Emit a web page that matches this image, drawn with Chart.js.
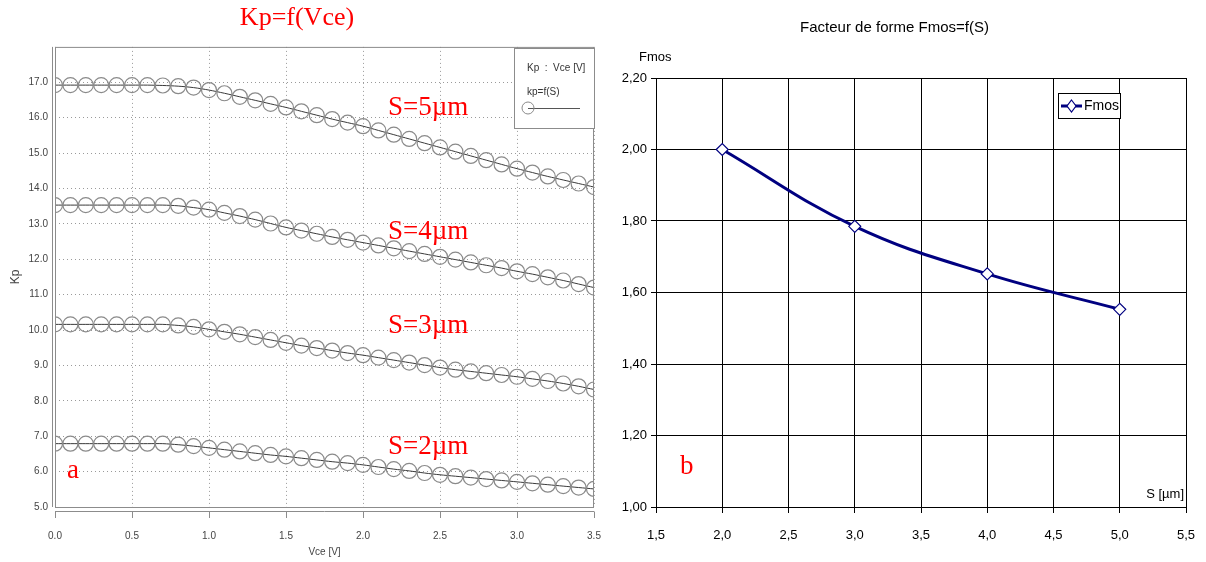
<!DOCTYPE html>
<html>
<head>
<meta charset="utf-8">
<script src="https://cdn.jsdelivr.net/npm/chart.js@4"></script>
<style>
    body { margin: 0; background: #fff; width: 1206px; height: 562px; overflow: hidden; }
    .bloc { position: absolute; top: 0; height: 562px; width: 603px; }
    #gauche { left: 0; }
    #droite { left: 603px; }
</style>
</head>
<body>
<div class="bloc" id="gauche"><canvas id="kpChart"></canvas></div>
<div class="bloc" id="droite"><canvas id="fmosChart"></canvas></div>
<script>
// Graphe a : Kp = f(Vce)
const vce = [0.0, 0.1, 0.2, 0.3, 0.4, 0.5, 0.6, 0.7, 0.8, 0.9, 1.0, 1.1, 1.2, 1.3, 1.4, 1.5, 1.6, 1.7,
             1.8, 1.9, 2.0, 2.1, 2.2, 2.3, 2.4, 2.5, 2.6, 2.7, 2.8, 2.9, 3.0, 3.1, 3.2, 3.3, 3.4, 3.5];
const kpS5 = [16.92, 16.92, 16.92, 16.92, 16.92, 16.92, 16.92, 16.91, 16.89, 16.85, 16.78, 16.69, 16.59, 16.49,
              16.39, 16.29, 16.18, 16.07, 15.96, 15.86, 15.76, 15.64, 15.52, 15.40, 15.28, 15.16, 15.04, 14.92,
              14.80, 14.68, 14.56, 14.45, 14.34, 14.24, 14.14, 14.04];
const kpS4 = [13.53, 13.53, 13.53, 13.53, 13.53, 13.53, 13.53, 13.53, 13.51, 13.46, 13.40, 13.31, 13.22, 13.12,
              13.01, 12.90, 12.81, 12.72, 12.63, 12.55, 12.47, 12.39, 12.31, 12.23, 12.15, 12.07, 11.99, 11.91,
              11.83, 11.75, 11.66, 11.58, 11.49, 11.40, 11.30, 11.20];
const kpS3 = [10.16, 10.16, 10.16, 10.16, 10.16, 10.16, 10.16, 10.16, 10.13, 10.09, 10.02, 9.95, 9.88, 9.80,
              9.72, 9.64, 9.56, 9.49, 9.42, 9.35, 9.29, 9.22, 9.15, 9.08, 9.01, 8.94, 8.88, 8.83,
              8.78, 8.73, 8.68, 8.62, 8.56, 8.49, 8.41, 8.32];
const kpS2 = [6.79, 6.79, 6.79, 6.79, 6.79, 6.79, 6.79, 6.79, 6.76, 6.72, 6.67, 6.62, 6.57, 6.52,
              6.47, 6.43, 6.38, 6.33, 6.28, 6.24, 6.19, 6.13, 6.07, 6.02, 5.96, 5.91, 5.87, 5.83,
              5.79, 5.75, 5.71, 5.67, 5.63, 5.59, 5.55, 5.51];
const etiquettesS = ['S=5µm', 'S=4µm', 'S=3µm', 'S=2µm'];

// Graphe b : Fmos = f(S)
const sValeurs = [2, 3, 4, 5];
const fmosValeurs = [2.00, 1.785, 1.652, 1.553];

const sans = "'Liberation Sans', Arial, sans-serif";
const serif = "'Liberation Serif', 'Times New Roman', serif";

function serieKp(valeurs) {
    return {
        data: vce.map((x, i) => ({ x: x, y: valeurs[i] })),
        borderColor: '#3a3a3a',
        borderWidth: 1,
        pointStyle: 'circle',
        pointRadius: 7.5,
        pointHoverRadius: 7.5,
        pointBorderColor: '#8a8a8a',
        pointBorderWidth: 1.2,
        pointBackgroundColor: 'rgba(255,255,255,0)',
        tension: 0.3
    };
}

// pas de marge auto pour les etiquettes extremes
function sansMarge(s, h) {
    s.height = h;
    s.paddingLeft = 0;
    s.paddingRight = 0;
}

// cadre, legende et annotations du graphe a
const decorA = {
    id: 'decorA',
    afterDraw(chart) {
        const { ctx, chartArea: ca, scales } = chart;
        ctx.save();
        ctx.strokeStyle = '#8c8c8c';
        ctx.lineWidth = 1;
        ctx.strokeRect(ca.left + 0.5, ca.top + 0.5, ca.right - ca.left - 1, ca.bottom - ca.top);
        ctx.beginPath();
        ctx.moveTo(ca.left - 2.5, ca.top);
        ctx.lineTo(ca.left - 2.5, ca.bottom);
        // axe x double + graduations
        ctx.moveTo(ca.left, ca.bottom + 4.5);
        ctx.lineTo(ca.right, ca.bottom + 4.5);
        scales.x.ticks.forEach(t => {
            const px = Math.round(scales.x.getPixelForValue(t.value)) + 0.5;
            ctx.moveTo(px, ca.bottom + 4.5);
            ctx.lineTo(px, ca.bottom + 11);
        });
        ctx.stroke();

        // legende
        ctx.fillStyle = '#fff';
        ctx.fillRect(514, 48, 80, 80);
        ctx.strokeStyle = '#8c8c8c';
        ctx.strokeRect(514.5, 48.5, 80, 80);
        ctx.fillStyle = '#333';
        ctx.font = '10px ' + sans;
        ctx.textBaseline = 'middle';
        ctx.fillText('Kp  :  Vce [V]', 527, 68);
        ctx.fillText('kp=f(S)', 527, 92);
        ctx.strokeStyle = '#555';
        ctx.beginPath();
        ctx.moveTo(528, 108.5);
        ctx.lineTo(580, 108.5);
        ctx.stroke();
        ctx.strokeStyle = '#8a8a8a';
        ctx.beginPath();
        ctx.arc(528, 108, 6, 0, Math.PI * 2);
        ctx.stroke();

        // annotations
        ctx.fillStyle = '#ff0000';
        ctx.font = '27px ' + serif;
        const yS = [108, 232, 326, 447];
        etiquettesS.forEach((txt, i) => ctx.fillText(txt, 388, yS[i]));
        ctx.fillText('a', 67, 471);
        ctx.restore();
    }
};

new Chart(document.getElementById('kpChart'), {
    type: 'line',
    data: { datasets: [serieKp(kpS5), serieKp(kpS4), serieKp(kpS3), serieKp(kpS2)] },
    options: {
        responsive: true,
        maintainAspectRatio: false,
        animation: false,
        layout: { padding: { left: 0, right: 9, top: 0, bottom: 0 } },
        plugins: {
            legend: { display: false },
            tooltip: { enabled: false },
            title: {
                display: true,
                text: 'Kp=f(Vce)',
                color: '#ff0000',
                font: { family: serif, size: 26, weight: 'normal', lineHeight: 1.15 },
                padding: { top: 3, bottom: 14 }
            }
        },
        scales: {
            x: {
                type: 'linear',
                min: 0, max: 3.5,
                afterFit: s => sansMarge(s, 55),
                ticks: { stepSize: 0.5, padding: 23, color: '#444', font: { family: sans, size: 10 },
                         callback: v => v.toFixed(1) },
                grid: { color: '#9a9a9a', drawTicks: false },
                border: { display: false, dash: [1, 3] },
                title: { display: true, text: 'Vce [V]', color: '#444', font: { family: sans, size: 10 },
                         padding: { top: 0, bottom: 4 } }
            },
            y: {
                min: 5, max: 18,
                afterFit: s => { s.width = 55; },
                ticks: { stepSize: 1, padding: 7, color: '#444', font: { family: sans, size: 10 },
                         callback: v => (v === 18 ? '' : v.toFixed(1)) },
                grid: { color: c => (c.tick && (c.tick.value === 18 || c.tick.value === 5) ? 'rgba(0,0,0,0)' : '#9a9a9a'),
                        drawTicks: false },
                border: { display: false, dash: [1, 3] },
                title: { display: true, text: 'Kp', color: '#444', font: { family: sans, size: 12 },
                         padding: { top: 8, bottom: 0 } }
            }
        }
    },
    plugins: [decorA]
});

// legende et annotations du graphe b
const decorB = {
    id: 'decorB',
    afterDraw(chart) {
        const { ctx } = chart;
        ctx.save();
        ctx.fillStyle = '#000';
        ctx.font = '13px ' + sans;
        ctx.textBaseline = 'middle';
        ctx.fillText('Fmos', 36, 57);
        ctx.textAlign = 'right';
        ctx.fillText('S [µm]', 581, 494);
        ctx.textAlign = 'left';

        // legende
        ctx.fillStyle = '#fff';
        ctx.fillRect(455, 93, 62, 25);
        ctx.strokeStyle = '#000';
        ctx.lineWidth = 1;
        ctx.strokeRect(455.5, 93.5, 62, 25);
        ctx.strokeStyle = '#000080';
        ctx.lineWidth = 3;
        ctx.beginPath();
        ctx.moveTo(458, 106);
        ctx.lineTo(479, 106);
        ctx.stroke();
        ctx.lineWidth = 1.2;
        ctx.fillStyle = '#fff';
        ctx.beginPath();
        ctx.moveTo(468.5, 100);
        ctx.lineTo(473, 106);
        ctx.lineTo(468.5, 112);
        ctx.lineTo(464, 106);
        ctx.closePath();
        ctx.fill();
        ctx.stroke();
        ctx.fillStyle = '#000';
        ctx.font = '14px ' + sans;
        ctx.fillText('Fmos', 481, 106);

        ctx.fillStyle = '#ff0000';
        ctx.font = '27px ' + serif;
        ctx.fillText('b', 77, 467);
        ctx.restore();
    }
};

new Chart(document.getElementById('fmosChart'), {
    type: 'line',
    data: {
        datasets: [{
            label: 'Fmos',
            data: sValeurs.map((s, i) => ({ x: s, y: fmosValeurs[i] })),
            borderColor: '#000080',
            borderWidth: 3,
            tension: 0.4,
            pointStyle: 'rectRot',
            pointRadius: 6,
            pointHoverRadius: 6,
            pointBorderColor: '#000080',
            pointBorderWidth: 1.2,
            pointBackgroundColor: '#fff'
        }]
    },
    options: {
        responsive: true,
        maintainAspectRatio: false,
        animation: false,
        layout: { padding: { left: 0, right: 20, top: 0, bottom: 0 } },
        plugins: {
            legend: { display: false },
            tooltip: { enabled: false },
            title: {
                display: true,
                text: 'Facteur de forme Fmos=f(S)',
                color: '#000',
                font: { family: sans, size: 15, weight: 'normal', lineHeight: 1.2 },
                padding: { top: 19, bottom: 41 }
            }
        },
        scales: {
            x: {
                type: 'linear',
                min: 1.5, max: 5.5,
                afterFit: s => sansMarge(s, 55),
                ticks: { stepSize: 0.5, padding: 15, color: '#000', font: { family: sans, size: 13 },
                         callback: v => v.toFixed(1).replace('.', ',') },
                grid: { color: '#000', lineWidth: 1, tickLength: 6, tickColor: '#000' },
                border: { color: '#000', width: 1 }
            },
            y: {
                min: 1, max: 2.2,
                afterFit: s => { s.width = 53; },
                ticks: { stepSize: 0.2, padding: 4, color: '#000', font: { family: sans, size: 13 },
                         callback: v => v.toFixed(2).replace('.', ',') },
                grid: { color: '#000', lineWidth: 1, tickLength: 5, tickColor: '#000' },
                border: { color: '#000', width: 1 }
            }
        }
    },
    plugins: [decorB]
});
</script>
</body>
</html>
